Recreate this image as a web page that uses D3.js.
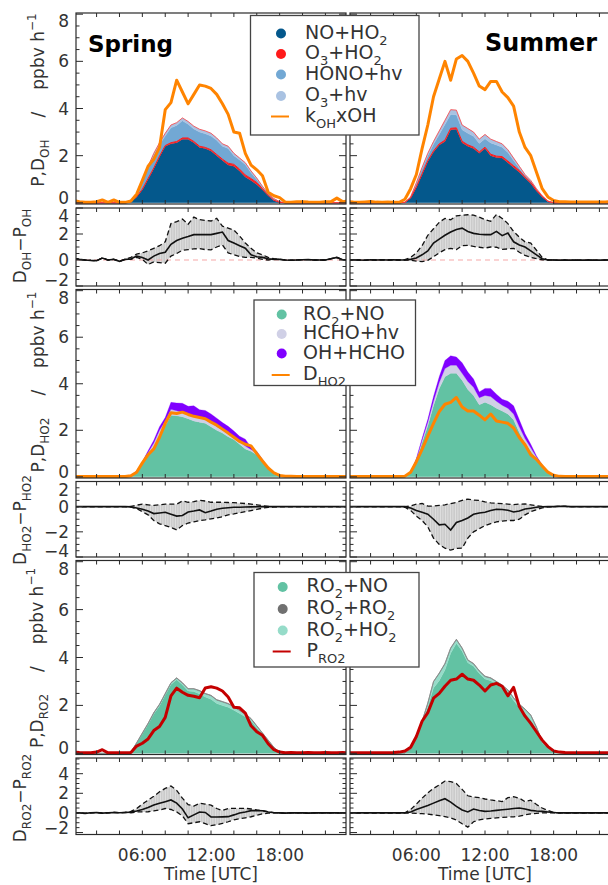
<!DOCTYPE html>
<html><head><meta charset="utf-8">
<script src="https://cdn.jsdelivr.net/npm/d3@7"></script>
<style>
body{margin:0;background:#fff;overflow:hidden}
svg{display:block}
text{font-family:"DejaVu Sans",sans-serif;fill:#333}
</style>
</head><body>
<svg id="c" width="608" height="885"></svg>
<script>
// ---------- DATA (half-hourly, UTC hours) ----------
const hours = [0,0.5,1,1.5,2,2.5,3,3.5,4,4.5,5,5.5,6,6.5,7,7.5,8,8.5,9,9.5,10,10.5,11,11.5,12,12.5,13,13.5,14,14.5,15,15.5,16,16.5,17,17.5,18,18.5,19,19.5,20,20.5,21,21.5,22,22.5,23,23.5,24];
const xTickLabels = ["06:00","12:00","18:00"];
const xLabelHours = [6,12,18];

// Spring: OH production
const sp_NO_HO2 = [0,0,0,0,0,0,0,0,0,0, 0.05,0.25,0.55,1.0,1.45,1.95,2.4,2.5,2.55,2.7, 2.7,2.55,2.35,2.3,2.2,2.0,1.8,1.6,1.55,1.35, 1.1,0.95,0.78,0.55,0.3,0.1,0.02,0,0,0, 0,0,0,0,0,0,0,0,0];
const sp_O3_HO2 = [0,0,0,0,0,0,0,0,0,0, 0,0.01,0.03,0.03,0.03,0.03,0.03,0.05,0.05,0.05, 0.05,0.05,0.05,0.05,0.05,0.05,0.05,0.08,0.08,0.08, 0.08,0.08,0.08,0.05,0.03,0.01,0,0,0,0, 0,0,0,0,0,0,0,0,0];
const sp_HONO_hv = [0,0,0,0,0,0,0,0,0,0, 0,0.08,0.34,0.47,0.55,0.49,0.4,0.63,0.68,0.73, 0.58,0.53,0.6,0.58,0.58,0.6,0.55,0.62,0.37,0.39, 0.44,0.24,0.13,0.06,0.05,0.06,0.03,0,0,0, 0,0,0,0,0,0,0,0,0];
const sp_O3_hv = [0,0,0,0,0,0,0,0,0,0, 0,0.01,0.03,0.05,0.07,0.08,0.12,0.12,0.12,0.12, 0.12,0.12,0.12,0.12,0.12,0.1,0.1,0.1,0.1,0.08, 0.08,0.08,0.06,0.04,0.02,0.01,0,0,0,0, 0,0,0,0,0,0,0,0,0];
const sp_kOH_OH = [0.1,0.05,0.02,0.02,0.05,0.12,0.02,0.12,0.02,0.02, 0.08,0.37,0.95,1.55,1.85,2.35,3.95,4.25,5.2,4.7, 4.2,4.6,5.0,4.95,4.85,4.6,4.2,3.75,3.0,2.95, 2.1,1.6,1.4,1.15,0.45,0.3,0.22,0.03,0.02,0.05, 0.05,0.03,0.02,0.02,0.05,0.05,0.2,0.05,0.08];
// Spring: D_OH - P_OH
const sp_dOH = [0.13,0.05,0.0,-0.03,-0.05,0.15,0.0,0.05,-0.1,0.05, 0.08,0.3,0.2,0.0,0.3,0.5,0.6,1.2,1.5,1.68, 1.8,1.95,1.95,1.95,1.95,2.05,2.15,1.5,1.3,1.1, 0.91,0.4,0.25,0.2,0.1,0.05,0.05,0.0,-0.02,0.0, 0.02,0.03,0.0,0.0,0.0,0.1,0.2,0.02,0.0];
const sp_dOH_hi = [0.13,0.05,0.0,-0.03,-0.05,0.15,0.0,0.05,-0.1,0.05, 0.2,0.45,0.55,0.7,0.9,1.1,1.4,2.8,2.95,3.15, 2.75,3.3,3.1,3.05,3.0,3.2,2.6,2.45,2.3,1.85, 1.3,0.9,0.55,0.4,0.2,0.1,0.05,0.0,-0.02,0.0, 0.02,0.03,0.0,0.0,0.0,0.1,0.2,0.02,0.0];
const sp_dOH_lo = [0.13,0.05,0.0,-0.03,-0.05,0.15,0.0,0.05,-0.1,0.05, 0.05,0.2,0.05,-0.35,-0.15,-0.2,-0.25,0.3,0.5,0.75, 0.8,0.85,0.88,0.8,0.78,1.0,1.15,0.55,0.4,0.26, 0.2,0.2,0.15,0.05,0.0,0.05,0.05,0.0,-0.02,0.0, 0.02,0.03,0.0,0.0,0.0,0.1,0.2,0.02,0.0];

// Summer: OH production
const su_NO_HO2 = [0,0,0,0,0,0,0,0,0,0, 0.02,0.2,0.65,1.2,1.75,2.15,2.45,2.6,3.1,3.12, 2.55,2.4,2.3,2.1,2.3,2.0,1.92,1.9,1.7,1.5, 1.3,1.05,0.82,0.5,0.25,0.05,0,0,0,0, 0,0,0,0,0,0,0,0,0];
const su_O3_HO2 = [0,0,0,0,0,0,0,0,0,0, 0,0.01,0.03,0.03,0.04,0.05,0.05,0.06,0.06,0.06, 0.06,0.06,0.06,0.06,0.06,0.06,0.06,0.06,0.07,0.07, 0.07,0.05,0.05,0.04,0.02,0.01,0,0,0,0, 0,0,0,0,0,0,0,0,0];
const su_HONO_hv = [0,0,0,0,0,0,0,0,0,0, 0,0.03,0.13,0.2,0.21,0.28,0.4,0.66,0.59,0.55, 0.49,0.49,0.46,0.36,0.36,0.48,0.47,0.4,0.36,0.23, 0.1,0.05,0.04,0.03,0.01,0.01,0,0,0,0, 0,0,0,0,0,0,0,0,0];
const su_O3_hv = [0,0,0,0,0,0,0,0,0,0, 0,0.01,0.04,0.07,0.1,0.12,0.15,0.18,0.2,0.2, 0.2,0.2,0.18,0.18,0.18,0.16,0.15,0.14,0.12,0.1, 0.08,0.05,0.04,0.03,0.02,0.01,0,0,0,0, 0,0,0,0,0,0,0,0,0];
const su_kOH_OH = [0.05,0.03,0.02,0.04,0.06,0.03,0.02,0.03,0.02,0.02, 0.15,0.6,1.2,2.3,3.3,4.5,5.25,6.0,5.2,6.1, 6.25,6.0,5.5,4.95,4.8,5.15,5.15,4.7,4.46,4.1, 3.0,2.35,2.0,1.3,0.6,0.25,0.1,0.05,0.05,0.04, 0.04,0.03,0.04,0.03,0.03,0.04,0.05,0.1,0.04];
// Summer: D_OH - P_OH
const su_dOH = [0,0.02,0,-0.02,0.02,0,0.01,0,0.02,0, 0,0.05,0.15,0.4,0.7,1.3,1.6,1.9,2.15,2.35, 2.45,2.2,2.05,1.98,1.95,1.95,2.2,1.87,2.07,1.4, 1.15,1.0,0.7,0.4,0.1,0,0,-0.02,0,-0.02, 0,-0.02,0,-0.01,-0.02,0,0,0,0];
const su_dOH_hi = [0,0.02,0,-0.02,0.02,0,0.01,0,0.02,0, 0.03,0.2,0.55,1.1,1.9,2.4,2.9,3.2,3.1,3.4, 3.45,3.48,3.45,3.3,3.11,2.98,3.5,3.2,2.8,2.2, 1.75,1.4,1.3,0.75,0.2,0,0,-0.02,0,-0.02, 0,-0.02,0,-0.01,-0.02,0,0,0,0];
const su_dOH_lo = [0,0.02,0,-0.02,0.02,0,0.01,0,0.02,0, 0,-0.02,-0.08,-0.13,-0.03,0.25,0.55,0.8,0.9,0.8, 1.1,1.12,1.04,0.98,0.92,1.0,0.98,0.82,0.85,0.9, 0.6,0.35,0.2,0.1,0.02,0,0,-0.02,0,-0.02, 0,-0.02,0,-0.01,-0.02,0,0,0,0];

// Spring: HO2 production
const sp_RO2_NO = [0,0,0,0,0,0,0,0,0,0, 0.05,0.2,0.55,0.95,1.3,1.8,2.2,2.65,2.62,2.58, 2.5,2.4,2.35,2.3,2.15,2.0,1.88,1.72,1.6,1.4, 1.2,1.1,0.95,0.65,0.35,0.12,0.05,0.02,0,0, 0,0,0,0,0,0,0,0,0];
const sp_HCHO_hv = [0,0,0,0,0,0,0,0,0,0, 0.01,0.03,0.06,0.1,0.15,0.2,0.2,0.25,0.22,0.2, 0.18,0.2,0.18,0.18,0.18,0.17,0.15,0.15,0.12,0.12, 0.12,0.08,0.07,0.05,0.03,0.02,0.01,0,0,0, 0,0,0,0,0,0,0,0,0];
const sp_OH_HCHO = [0,0,0,0,0,0,0,0,0,0, 0.01,0.02,0.04,0.07,0.12,0.15,0.15,0.3,0.33,0.38, 0.35,0.45,0.35,0.37,0.37,0.35,0.3,0.3,0.25,0.22, 0.3,0.08,0.08,0.05,0.02,0.01,0,0,0,0, 0,0,0,0,0,0,0,0,0];
const sp_D_HO2 = [0.01,0.01,0.01,0.01,0.01,0.01,0.01,0.01,0.01,0.01, 0.05,0.2,0.6,0.95,1.2,1.7,2.3,2.75,2.72,2.78, 2.68,2.6,2.55,2.5,2.35,2.22,2.05,1.88,1.7,1.52, 1.4,1.33,1.0,0.68,0.38,0.17,0.06,0.03,0.02,0.01, 0.01,0.01,0.01,0.01,0.01,0.01,0.01,0.01,0.01];
// Spring: D_HO2 - P_HO2
const sp_dHO2 = [0,0,0,0,0,0,0,0,0,0, -0.02,-0.1,-0.2,-0.35,-0.55,-0.5,-0.45,-0.6,-0.75,-0.7, -0.42,-0.35,-0.26,-0.48,-0.35,-0.2,-0.12,-0.08,-0.05,-0.05, -0.03,-0.02,-0.01,0,0,0,0,0,0,0, 0,0,0,0,0,0,0,0,0];
const sp_dHO2_hi = [0,0,0,0,0,0,0,0,0,0, 0.02,0.12,0.2,0.15,0.1,0.15,0.2,0.2,0.2,0.45, 0.35,0.4,0.5,0.45,0.35,0.35,0.35,0.33,0.32,0.28, 0.25,0.21,0.15,0.08,0.03,0,0,0,0,0, 0,0,0,0,0,0,0,0,0];
const sp_dHO2_lo = [0,0,0,0,0,0,0,0,0,0, -0.03,-0.15,-0.4,-0.65,-1.1,-1.36,-1.5,-1.65,-1.85,-1.5, -1.3,-1.2,-1.1,-1.05,-0.97,-0.9,-0.8,-0.65,-0.58,-0.48, -0.4,-0.31,-0.22,-0.12,-0.05,-0.02,0,0,0,0, 0,0,0,0,0,0,0,0,0];

// Summer: HO2 production
const su_RO2_NO = [0,0,0,0,0,0,0,0,0,0, 0.02,0.15,0.7,1.47,2.2,3.05,3.8,4.3,4.45,4.45, 4.15,3.75,3.5,3.1,3.2,3.1,2.95,2.83,2.7,2.45, 1.9,1.45,1.1,0.8,0.45,0.15,0.03,0.01,0,0, 0,0,0,0,0,0,0,0,0];
const su_HCHO_hv = [0,0,0,0,0,0,0,0,0,0, 0,0.02,0.05,0.1,0.15,0.2,0.25,0.35,0.35,0.35, 0.3,0.35,0.35,0.3,0.3,0.35,0.3,0.25,0.25,0.25, 0.25,0.2,0.15,0.05,0.03,0.01,0,0,0,0, 0,0,0,0,0,0,0,0,0];
const su_OH_HCHO = [0,0,0,0,0,0,0,0,0,0, 0,0.01,0.03,0.08,0.12,0.2,0.25,0.35,0.4,0.35, 0.45,0.4,0.35,0.25,0.3,0.35,0.3,0.25,0.3,0.35, 0.3,0.2,0.15,0.05,0.03,0.01,0,0,0,0, 0,0,0,0,0,0,0,0,0];
const su_D_HO2 = [0.01,0.01,0.01,0.01,0.01,0.01,0.01,0.01,0.01,0.01, 0.03,0.2,0.65,1.18,1.75,2.3,2.8,3.12,3.2,3.41, 3.0,2.83,2.83,2.65,2.45,2.7,2.4,2.35,2.3,2.1, 1.69,1.38,0.95,0.75,0.47,0.2,0.07,0.02,0.01,0.01, 0.01,0.01,0.01,0.01,0.01,0.01,0.01,0.01,0.01];
// Summer: D_HO2 - P_HO2
const su_dHO2 = [0,0,0,0,0,0,0,0,0,0, 0,-0.1,-0.3,-0.45,-0.6,-1.0,-1.45,-1.4,-1.85,-1.25, -1.1,-0.9,-0.6,-0.5,-0.44,-0.3,-0.2,-0.22,-0.28,-0.42, -0.35,-0.18,-0.12,-0.05,-0.01,0,0,0.03,0.02,0, 0,0,0,0,0,0,0,0,0];
const su_dHO2_hi = [0,0,0,0,0,0,0,0,0,0, 0,0.05,0.2,0.25,0.05,0.05,0.1,0.15,0.25,0.34, 0.5,0.6,0.52,0.5,0.38,0.3,0.27,0.24,0.2,0.16, 0.2,0.21,0.15,0.08,0.02,0,0,0.03,0.02,0, 0,0,0,0,0,0,0,0,0];
const su_dHO2_lo = [0,0,0,0,0,0,0,0,0,0, -0.05,-0.3,-0.75,-1.1,-1.6,-2.5,-3.0,-3.3,-3.45,-3.32, -3.3,-2.5,-2.0,-1.75,-1.5,-1.35,-1.2,-1.15,-1.1,-1.1, -1.0,-0.65,-0.4,-0.25,-0.1,-0.02,0,0.03,0.02,0, 0,0,0,0,0,0,0,0,0];

// Spring: RO2 production
const sp_R_RO2_NO = [0,0,0,0,0,0,0,0,0,0, 0.05,0.42,0.81,1.2,1.64,1.98,2.43,2.87,3.07,2.86, 2.6,2.58,2.48,2.35,2.26,2.08,2.0,1.92,1.8,1.66, 1.53,1.35,1.07,0.79,0.52,0.23,0.04,0,0,0, 0,0,0,0,0,0,0,0,0];
const sp_R_RO2_HO2 = [0,0,0,0,0,0,0,0,0,0, 0,0.01,0.02,0.03,0.04,0.05,0.05,0.06,0.06,0.07, 0.08,0.1,0.12,0.13,0.14,0.14,0.14,0.14,0.13,0.12, 0.1,0.08,0.06,0.04,0.02,0.01,0,0,0,0, 0,0,0,0,0,0,0,0,0];
const sp_R_RO2_RO2 = [0,0,0,0,0,0,0,0,0,0, 0,0.01,0.02,0.02,0.02,0.02,0.02,0.02,0.02,0.02, 0.02,0.02,0.02,0.02,0.02,0.02,0.02,0.02,0.02,0.02, 0.02,0.02,0.02,0.02,0.01,0.01,0.01,0,0,0, 0,0,0,0,0,0,0,0,0];
const sp_P_RO2 = [0.05,0.03,0.02,0.02,0.05,0.15,0.02,0.02,0.02,0.02, 0.03,0.3,0.42,0.6,0.95,1.12,1.5,2.4,2.72,2.55, 2.42,2.38,2.32,2.73,2.78,2.72,2.6,2.35,1.92,1.9, 1.68,1.15,0.9,0.75,0.4,0.15,0.05,0.02,0.03,0.02, 0.02,0.03,0.02,0.02,0.03,0.02,0.02,0.03,0.02];
// Spring: D_RO2 - P_RO2
const sp_dRO2 = [0.02,0.0,-0.05,0.02,0.05,-0.02,0.02,0.05,0.02,0.05, 0.08,0.2,0.35,0.55,0.8,0.98,1.15,1.32,1.0,0.4, -0.5,-0.2,0.1,0.05,-0.4,-0.42,-0.4,-0.38,-0.2,0.0, 0.1,0.23,0.23,0.22,0.1,0.02,0.0,-0.02,0.02,0.0, 0,-0.02,0,0.02,0,0,0.02,0,0];
const sp_dRO2_hi = [0.02,0.0,-0.05,0.02,0.05,-0.02,0.02,0.05,0.02,0.05, 0.15,0.45,0.9,1.3,1.7,2.15,2.5,2.75,2.3,1.5, 0.85,0.7,0.98,0.9,0.8,0.45,0.25,0.45,0.47,0.47, 0.47,0.4,0.3,0.23,0.12,0.03,0.0,-0.02,0.02,0.0, 0,-0.02,0,0.02,0,0,0.02,0,0];
const sp_dRO2_lo = [0.02,0.0,-0.05,0.02,0.05,-0.02,0.02,0.05,0.02,0.05, 0.02,0.1,0.1,0.12,0.2,0.3,0.45,0.35,0.1,-0.3, -1.1,-1.0,-0.9,-1.1,-1.3,-1.2,-1.07,-0.9,-0.7,-0.6, -0.5,-0.39,-0.25,-0.1,-0.02,0,0,-0.02,0.02,0, 0,-0.02,0,0.02,0,0,0.02,0,0];

// Summer: RO2 production
const su_R_RO2_NO = [0,0,0,0,0,0,0,0,0,0, 0.02,0.16,0.65,1.24,1.93,2.73,3.03,3.48,4.18,4.59, 4.26,3.78,3.63,3.33,3.1,3.03,2.88,2.73,2.53,2.2, 1.91,1.68,1.4,0.98,0.44,0.22,0.08,0.03,0,0, 0,0,0,0,0,0,0,0,0];
const su_R_RO2_HO2 = [0,0,0,0,0,0,0,0,0,0, 0,0,0.03,0.08,0.15,0.25,0.3,0.25,0.2,0.15, 0.12,0.1,0.1,0.1,0.1,0.1,0.1,0.1,0.1,0.1, 0.12,0.15,0.18,0.1,0.04,0.02,0,0,0,0, 0,0,0,0,0,0,0,0,0];
const su_R_RO2_RO2 = [0,0,0,0,0,0,0,0,0,0, 0,0.02,0.02,0.02,0.02,0.02,0.02,0.02,0.02,0.02, 0.02,0.02,0.02,0.02,0.02,0.02,0.02,0.02,0.02,0.02, 0.02,0.02,0.02,0.02,0.02,0.01,0.02,0,0,0, 0,0,0,0,0,0,0,0,0];
const su_P_RO2 = [0.02,0.02,0.02,0.02,0.02,0.02,0.02,0.02,0.03,0.05, 0.1,0.25,0.7,1.34,1.7,2.3,2.5,2.8,3.05,3.1, 3.3,3.1,3.05,2.85,2.6,2.85,2.92,2.8,2.4,2.75, 1.95,1.55,1.25,0.9,0.55,0.28,0.1,0.05,0.03,0.02, 0.02,0.02,0.02,0.02,0.02,0.02,0.02,0.02,0.02];
// Summer: D_RO2 - P_RO2
const su_dRO2 = [0,0.02,0,0.02,0,0,0.02,0,0,0, 0,0.1,0.35,0.55,0.75,1.0,1.25,1.45,1.1,0.67, 0.3,0.1,0.4,0.25,0.16,0.2,0.26,0.32,0.38,0.45, 0.5,0.4,0.26,0.2,0.16,0.1,0.05,0,0,0, 0,0,0,0,0,0,0,0,0];
const su_dRO2_hi = [0,0.02,0,0.02,0,0,0.02,0,0,0, 0.02,0.35,0.9,1.5,2.05,2.5,2.85,3.25,3.2,3.0, 2.4,1.75,1.62,1.55,1.42,1.32,1.25,1.15,1.55,1.65, 1.5,1.15,1.3,0.85,0.5,0.25,0.05,0,0,0, 0,0,0,0,0,0,0,0,0];
const su_dRO2_lo = [0,0.02,0,0.02,0,0,0.02,0,0,0, 0,-0.02,-0.05,-0.08,-0.12,-0.2,-0.28,-0.38,-0.5,-0.73, -1.1,-1.45,-0.9,-0.7,-0.62,-0.56,-0.5,-0.45,-0.42,-0.4, -0.33,-0.2,-0.1,-0.05,0,0,0,0,0,0, 0,0,0,0,0,0,0,0,0];

// ---------- CONFIG ----------
const C = {
  noho2:"#04588c", o3ho2:"#ff1a1a", hono:"#72a8d4", o3hv:"#a9c2e2", orange:"#ff8400",
  green:"#62c2a3", lav:"#d0d0e6", purple:"#8000ff", gray:"#707070", lightg:"#97dcc9", dred:"#c40000"
};
const seasons = {
  sp: [
    {stack:[sp_NO_HO2, sp_O3_HO2, sp_HONO_hv, sp_O3_hv], line: sp_kOH_OH},
    {mean: sp_dOH, hi: sp_dOH_hi, lo: sp_dOH_lo},
    {stack:[sp_RO2_NO, sp_HCHO_hv, sp_OH_HCHO], line: sp_D_HO2},
    {mean: sp_dHO2, hi: sp_dHO2_hi, lo: sp_dHO2_lo},
    {stack:[sp_R_RO2_NO, sp_R_RO2_HO2, sp_R_RO2_RO2], line: sp_P_RO2},
    {mean: sp_dRO2, hi: sp_dRO2_hi, lo: sp_dRO2_lo}
  ],
  su: [
    {stack:[su_NO_HO2, su_O3_HO2, su_HONO_hv, su_O3_hv], line: su_kOH_OH},
    {mean: su_dOH, hi: su_dOH_hi, lo: su_dOH_lo},
    {stack:[su_RO2_NO, su_HCHO_hv, su_OH_HCHO], line: su_D_HO2},
    {mean: su_dHO2, hi: su_dHO2_hi, lo: su_dHO2_lo},
    {stack:[su_R_RO2_NO, su_R_RO2_HO2, su_R_RO2_RO2], line: su_P_RO2},
    {mean: su_dRO2, hi: su_dRO2_hi, lo: su_dRO2_lo}
  ]
};
const rows = [
  {top:13, bot:204, dom:[-0.05,8.05], labels:[0,2,4,6,8], colors:[C.noho2,C.o3ho2,C.hono,C.o3hv], lineColor:C.orange, outline:"#ff4040",
   title:[["P,D","n"],["OH","sub"],["/","n",22],["ppbv h","n",22],["−1","sup"]], tx:43.5, ty:100},
  {top:208, bot:286, dom:[-2,4], labels:[-2,0,2,4], zeroRef:true, title:[["D","n"],["OH","sub"],["−P","n"],["OH","sub"]], tx:26, ty:246},
  {top:289.5, bot:478, dom:[-0.05,8.05], labels:[0,2,4,6,8], colors:[C.green,C.lav,C.purple], lineColor:C.orange, outline:null,
   title:[["P,D","n"],["HO2","sub"],["/","n",22],["ppbv h","n",22],["−1","sup"]], tx:43.5, ty:382},
  {top:481.5, bot:557, dom:[-4,2], labels:[-4,-2,0,2], zeroRef:false, title:[["D","n"],["HO2","sub"],["−P","n"],["HO2","sub"]], tx:26, ty:520},
  {top:560.5, bot:754.5, dom:[-0.05,8.05], labels:[0,2,4,6,8], colors:[C.green,C.lightg,C.gray], lineColor:C.dred, outline:"#8a8a8a",
   title:[["P,D","n"],["RO2","sub"],["/","n",22],["ppbv h","n",22],["−1","sup"]], tx:43, ty:658},
  {top:758, bot:834.5, dom:[-2.2,5.6], labels:[-2,0,2,4], zeroRef:false, title:[["D","n"],["RO2","sub"],["−P","n"],["RO2","sub"]], tx:26, ty:798}
];
const cols = [{key:"sp", x0:76, x1:346}, {key:"su", x0:350, x1:620}];

// ---------- HELPERS ----------
function rich(t, parts, base, small) {
  let shift = 0;
  parts.forEach(([s, mode, dx]) => {
    const target = mode === "sub" ? base * 0.32 : mode === "sup" ? -base * 0.45 : 0;
    const ts = t.append("tspan").text(s).attr("dy", target - shift);
    if (dx) ts.attr("dx", dx);
    if (mode !== "n") ts.attr("font-size", small);
    shift = target;
  });
}

const svg = d3.select("#c");
const defs = svg.append("defs");
const pat = defs.append("pattern").attr("id","hatch").attr("patternUnits","userSpaceOnUse").attr("width",2.5).attr("height",10);
pat.append("rect").attr("width",2.5).attr("height",10).attr("fill","#cbcbcb");
pat.append("rect").attr("width",0.7).attr("height",10).attr("fill","#e4e4e4");

// ---------- DRAW ----------
cols.forEach((col, ci) => {
  const x = d3.scaleLinear().domain([0.2, 23.8]).range([col.x0, col.x1]);
  rows.forEach((row, ri) => {
    const y = d3.scaleLinear().domain(row.dom).range([row.bot, row.top]);
    const ser = seasons[col.key][ri];
    const cid = `clip${ci}_${ri}`;
    defs.append("clipPath").attr("id", cid).append("rect")
      .attr("x", col.x0).attr("y", row.top).attr("width", col.x1 - col.x0).attr("height", row.bot - row.top);
    const g = svg.append("g").attr("clip-path", `url(#${cid})`);

    if (ser.stack) {
      const keys = ser.stack.map((_, k) => "k" + k);
      const table = hours.map((h, i) => {
        const o = {h};
        ser.stack.forEach((arr, k) => o["k" + k] = arr[i]);
        return o;
      });
      const st = d3.stack().keys(keys)(table);
      const area = d3.area().x(d => x(d.data.h)).y0(d => y(d[0])).y1(d => y(d[1]));
      st.forEach((layer, k) => {
        g.append("path").attr("d", area(layer)).attr("fill", row.colors[k]).attr("stroke", row.colors[k]).attr("stroke-width", 0.3);
      });
      if (ri === 0) {
        const l2 = d3.line().x(d => x(d.data.h)).y(d => y(d[1]));
        g.append("path").attr("d", l2(st[1])).attr("fill","none").attr("stroke", C.o3ho2).attr("stroke-width", 1);
      }
      if (row.outline) {
        const lt = d3.line().x(d => x(d.data.h)).y(d => y(d[1]));
        g.append("path").attr("d", lt(st[st.length - 1])).attr("fill","none").attr("stroke", row.outline).attr("stroke-width", 0.8);
      }
      const line = d3.line().x((d, i) => x(hours[i])).y(d => y(d));
      g.append("path").attr("d", line(ser.line)).attr("fill","none").attr("stroke", row.lineColor)
        .attr("stroke-width", 3).attr("stroke-linejoin","round");
    } else {
      const band = d3.area().x((d, i) => x(hours[i])).y0((d, i) => y(ser.lo[i])).y1(d => y(d));
      g.append("path").attr("d", band(ser.hi)).attr("fill", "url(#hatch)");
      if (row.zeroRef) {
        g.append("line").attr("x1", col.x0).attr("x2", col.x1).attr("y1", y(0)).attr("y2", y(0))
          .attr("stroke", "#f6a7a7").attr("stroke-width", 1.2).attr("stroke-dasharray", "5,4");
      }
      const line = d3.line().x((d, i) => x(hours[i])).y(d => y(d));
      [ser.hi, ser.lo].forEach(a => g.append("path").attr("d", line(a)).attr("fill","none")
        .attr("stroke","#111").attr("stroke-width",1.3).attr("stroke-dasharray","5,3"));
      g.append("path").attr("d", line(ser.mean)).attr("fill","none").attr("stroke","#111").attr("stroke-width",1.6);
    }

    // frame + ticks
    const ax = svg.append("g").attr("stroke", "#2a2a2a").attr("stroke-width", 1);
    ax.append("rect").attr("x", col.x0).attr("y", row.top).attr("width", col.x1 - col.x0).attr("height", row.bot - row.top)
      .attr("fill", "none").attr("stroke-width", 1.2);
    d3.range(2, 24, 2).forEach(h => {
      ax.append("line").attr("x1", x(h)).attr("x2", x(h)).attr("y1", row.bot).attr("y2", row.bot - 4);
      ax.append("line").attr("x1", x(h)).attr("x2", x(h)).attr("y1", row.top).attr("y2", row.top + 4);
    });
    const minors = d3.range(Math.ceil(row.dom[0] * 2) / 2, row.dom[1] + 1e-9, 0.5);
    minors.forEach(v => {
      const major = Math.abs(v % 2) < 1e-9;
      const len = major ? 7 : 3.5;
      ax.append("line").attr("x1", col.x0).attr("x2", col.x0 + len).attr("y1", y(v)).attr("y2", y(v));
      ax.append("line").attr("x1", col.x1).attr("x2", col.x1 - len).attr("y1", y(v)).attr("y2", y(v));
    });

    if (ci === 0) {
      row.labels.forEach(v => {
        const yy = Math.max(row.top + 8, Math.min(row.bot - 6.5, y(v)));
        svg.append("text").attr("x", 69).attr("y", yy).attr("text-anchor", "end")
          .attr("dominant-baseline", "central").attr("font-size", 17)
          .text(String(v).replace("-", "−"));
      });
      const t = svg.append("text").attr("transform", `translate(${row.tx},${row.ty}) rotate(-90)`)
        .attr("text-anchor", "middle").attr("font-size", 17);
      rich(t, row.title, 17, 12);
    }
    if (ri === rows.length - 1) {
      xLabelHours.forEach((h, k) => {
        svg.append("text").attr("x", x(h)).attr("y", 861).attr("text-anchor", "middle")
          .attr("font-size", 17).text(xTickLabels[k]);
      });
      svg.append("text").attr("x", x(12)).attr("y", 880).attr("text-anchor", "middle")
        .attr("font-size", 17).text("Time [UTC]");
    }
  });
});

// ---------- LEGENDS ----------
const legends = [
  {box:[250.5, 15.5, 168.5, 119.5], cx:281, tx:305, items:[
    {type:"c", color:C.noho2, y:33.5, parts:[["NO+HO","n"],["2","sub"]]},
    {type:"c", color:C.o3ho2, y:54, parts:[["O","n"],["3","sub"],["+HO","n"],["2","sub"]]},
    {type:"c", color:C.hono, y:74.5, parts:[["HONO+hv","n"]]},
    {type:"c", color:C.o3hv, y:96, parts:[["O","n"],["3","sub"],["+hv","n"]]},
    {type:"l", color:C.orange, y:116.5, parts:[["k","n"],["OH","sub"],["xOH","n"]]}
  ]},
  {box:[254, 300, 161.5, 85.5], cx:281.7, tx:303, items:[
    {type:"c", color:C.green, y:314.5, parts:[["RO","n"],["2","sub"],["+NO","n"]]},
    {type:"c", color:C.lav, y:334, parts:[["HCHO+hv","n"]]},
    {type:"c", color:C.purple, y:353.5, parts:[["OH+HCHO","n"]]},
    {type:"l", color:C.orange, y:375, parts:[["D","n"],["HO2","sub"]]}
  ]},
  {box:[254, 572.5, 165, 94.5], cx:282.7, tx:306.5, items:[
    {type:"c", color:C.green, y:587, parts:[["RO","n"],["2","sub"],["+NO","n"]]},
    {type:"c", color:C.gray, y:609, parts:[["RO","n"],["2","sub"],["+RO","n"],["2","sub"]]},
    {type:"c", color:"#96dcc9", y:630.5, parts:[["RO","n"],["2","sub"],["+HO","n"],["2","sub"]]},
    {type:"l", color:C.dred, y:651.5, parts:[["P","n"],["RO2","sub"]]}
  ]}
];
legends.forEach(L => {
  const g = svg.append("g");
  g.append("rect").attr("x", L.box[0]).attr("y", L.box[1]).attr("width", L.box[2]).attr("height", L.box[3])
    .attr("fill", "#fff").attr("stroke", "#444").attr("stroke-width", 1.3);
  L.items.forEach(it => {
    if (it.type === "c") g.append("circle").attr("cx", L.cx).attr("cy", it.y).attr("r", 5).attr("fill", it.color);
    else g.append("line").attr("x1", L.cx - 10).attr("x2", L.cx + 8).attr("y1", it.y).attr("y2", it.y)
      .attr("stroke", it.color).attr("stroke-width", 2);
    const t = g.append("text").attr("x", L.tx).attr("y", it.y + 5).attr("font-size", 19);
    rich(t, it.parts, 19, 13);
  });
});

// ---------- SEASON TITLES ----------
function seasonTitle(txt, x, yb, width) {
  const t = svg.append("text").attr("x", x).attr("y", yb).attr("font-family", "'Open Sans',sans-serif")
    .attr("font-weight", "bold").attr("font-size", 28).style("fill", "#000").text(txt);
  const w = t.node().getComputedTextLength();
  if (w > 0) t.attr("font-size", 28 * width / w);
}
seasonTitle("Spring", 88, 52, 85);
seasonTitle("Summer", 485, 51, 112);
</script>
</body></html>
